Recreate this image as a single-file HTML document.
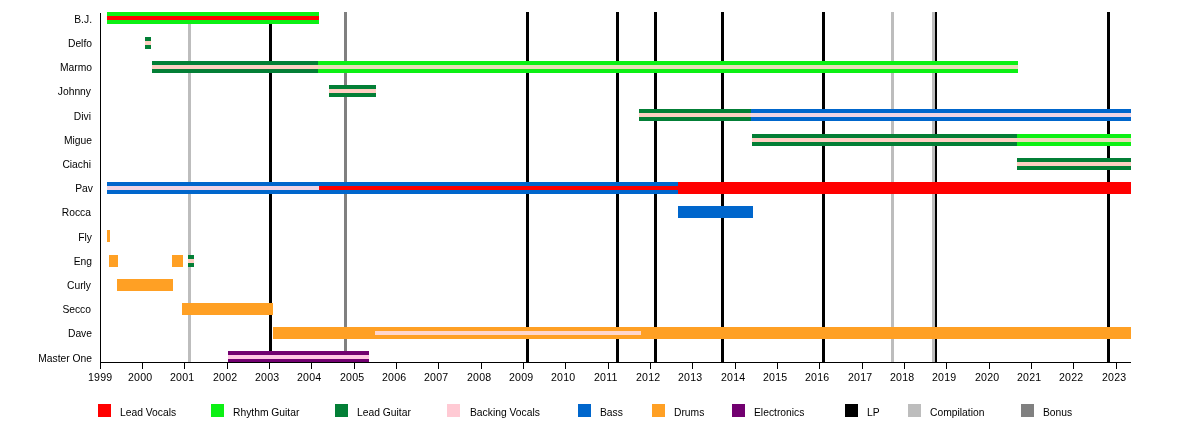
<!DOCTYPE html>
<html><head><meta charset="utf-8"><style>
html,body{margin:0;padding:0;background:#fff;}
body{width:1200px;height:422px;position:relative;overflow:hidden;font-family:"Liberation Sans",sans-serif;color:#000;}
.a{position:absolute;}
.t{position:absolute;will-change:transform;font-size:10.3px;line-height:20px;height:20px;white-space:nowrap;}
.rl{text-align:right;width:200px;}
.yr{font-size:10.6px;letter-spacing:0.2px;}
</style></head><body>

<div class="a" style="left:188px;top:12px;width:3px;height:350px;background:#bdbdbd"></div>
<div class="a" style="left:269px;top:12px;width:3px;height:350px;background:#000000"></div>
<div class="a" style="left:344px;top:12px;width:3px;height:350px;background:#808080"></div>
<div class="a" style="left:526px;top:12px;width:3px;height:350px;background:#000000"></div>
<div class="a" style="left:616px;top:12px;width:3px;height:350px;background:#000000"></div>
<div class="a" style="left:654px;top:12px;width:3px;height:350px;background:#000000"></div>
<div class="a" style="left:721px;top:12px;width:3px;height:350px;background:#000000"></div>
<div class="a" style="left:822px;top:12px;width:3px;height:350px;background:#000000"></div>
<div class="a" style="left:891px;top:12px;width:3px;height:350px;background:#bdbdbd"></div>
<div class="a" style="left:934px;top:12px;width:3px;height:350px;background:#000000"></div>
<div class="a" style="left:932px;top:12px;width:3px;height:350px;background:#bdbdbd"></div>
<div class="a" style="left:1107px;top:12px;width:3px;height:350px;background:#000000"></div>
<div class="a" style="left:107px;top:12px;width:212px;height:12px;background:#0cf014"></div>
<div class="a" style="left:107px;top:16px;width:212px;height:4px;background:#ff0000"></div>
<div class="a" style="left:145px;top:37px;width:6px;height:12px;background:#037f36"></div>
<div class="a" style="left:145px;top:41px;width:6px;height:4px;background:#ffcfc2"></div>
<div class="a" style="left:152px;top:61px;width:166px;height:12px;background:#037f36"></div>
<div class="a" style="left:152px;top:65px;width:166px;height:4px;background:#ffcfc2"></div>
<div class="a" style="left:318px;top:61px;width:700px;height:12px;background:#0cf014"></div>
<div class="a" style="left:318px;top:65px;width:700px;height:4px;background:#eadcb8"></div>
<div class="a" style="left:329px;top:85px;width:47px;height:12px;background:#037f36"></div>
<div class="a" style="left:329px;top:89px;width:47px;height:4px;background:#ffcfc2"></div>
<div class="a" style="left:639px;top:109px;width:112px;height:12px;background:#037f36"></div>
<div class="a" style="left:639px;top:113px;width:112px;height:4px;background:#ffcfc2"></div>
<div class="a" style="left:751px;top:109px;width:380px;height:12px;background:#0066cc"></div>
<div class="a" style="left:751px;top:113px;width:380px;height:4px;background:#f0d4e4"></div>
<div class="a" style="left:752px;top:134px;width:265px;height:12px;background:#037f36"></div>
<div class="a" style="left:752px;top:138px;width:265px;height:4px;background:#ffcfc2"></div>
<div class="a" style="left:1017px;top:134px;width:114px;height:12px;background:#0cf014"></div>
<div class="a" style="left:1017px;top:138px;width:114px;height:4px;background:#eadcb8"></div>
<div class="a" style="left:1017px;top:158px;width:114px;height:12px;background:#037f36"></div>
<div class="a" style="left:1017px;top:162px;width:114px;height:4px;background:#ffcfc2"></div>
<div class="a" style="left:107px;top:182px;width:212px;height:12px;background:#0066cc"></div>
<div class="a" style="left:107px;top:186px;width:212px;height:4px;background:#f0d4e4"></div>
<div class="a" style="left:319px;top:182px;width:359px;height:12px;background:#0066cc"></div>
<div class="a" style="left:319px;top:186px;width:359px;height:4px;background:#ff0000"></div>
<div class="a" style="left:678px;top:182px;width:453px;height:12px;background:#ff0000"></div>
<div class="a" style="left:678px;top:206px;width:75px;height:12px;background:#0066cc"></div>
<div class="a" style="left:107px;top:230px;width:3px;height:12px;background:#ffa024"></div>
<div class="a" style="left:109px;top:255px;width:9px;height:12px;background:#ffa024"></div>
<div class="a" style="left:172px;top:255px;width:11px;height:12px;background:#ffa024"></div>
<div class="a" style="left:188px;top:255px;width:6px;height:12px;background:#037f36"></div>
<div class="a" style="left:188px;top:259px;width:6px;height:4px;background:#ffcfc2"></div>
<div class="a" style="left:117px;top:279px;width:56px;height:12px;background:#ffa024"></div>
<div class="a" style="left:182px;top:303px;width:91px;height:12px;background:#ffa024"></div>
<div class="a" style="left:273px;top:327px;width:858px;height:12px;background:#ffa024"></div>
<div class="a" style="left:228px;top:351px;width:141px;height:12px;background:#720070"></div>
<div class="a" style="left:228px;top:355px;width:141px;height:4px;background:#ffc8e4"></div>
<div class="a" style="left:375px;top:331px;width:266px;height:4px;background:#ffd6cc"></div>
<div class="a" style="left:100px;top:13px;width:1px;height:350px;background:#000"></div>
<div class="a" style="left:100px;top:362px;width:1031px;height:1px;background:#000"></div>
<div class="a" style="left:100px;top:362px;width:1px;height:7px;background:#000"></div>
<div class="t yr" style="left:87.5px;top:367px">1999</div>
<div class="a" style="left:142px;top:362px;width:1px;height:7px;background:#000"></div>
<div class="t yr" style="left:128px;top:367px">2000</div>
<div class="a" style="left:184px;top:362px;width:1px;height:7px;background:#000"></div>
<div class="t yr" style="left:170px;top:367px">2001</div>
<div class="a" style="left:227px;top:362px;width:1px;height:7px;background:#000"></div>
<div class="t yr" style="left:213px;top:367px">2002</div>
<div class="a" style="left:269px;top:362px;width:1px;height:7px;background:#000"></div>
<div class="t yr" style="left:255px;top:367px">2003</div>
<div class="a" style="left:311px;top:362px;width:1px;height:7px;background:#000"></div>
<div class="t yr" style="left:297px;top:367px">2004</div>
<div class="a" style="left:354px;top:362px;width:1px;height:7px;background:#000"></div>
<div class="t yr" style="left:340px;top:367px">2005</div>
<div class="a" style="left:396px;top:362px;width:1px;height:7px;background:#000"></div>
<div class="t yr" style="left:382px;top:367px">2006</div>
<div class="a" style="left:438px;top:362px;width:1px;height:7px;background:#000"></div>
<div class="t yr" style="left:424px;top:367px">2007</div>
<div class="a" style="left:481px;top:362px;width:1px;height:7px;background:#000"></div>
<div class="t yr" style="left:467px;top:367px">2008</div>
<div class="a" style="left:523px;top:362px;width:1px;height:7px;background:#000"></div>
<div class="t yr" style="left:509px;top:367px">2009</div>
<div class="a" style="left:565px;top:362px;width:1px;height:7px;background:#000"></div>
<div class="t yr" style="left:551px;top:367px">2010</div>
<div class="a" style="left:608px;top:362px;width:1px;height:7px;background:#000"></div>
<div class="t yr" style="left:594px;top:367px">2011</div>
<div class="a" style="left:650px;top:362px;width:1px;height:7px;background:#000"></div>
<div class="t yr" style="left:636px;top:367px">2012</div>
<div class="a" style="left:692px;top:362px;width:1px;height:7px;background:#000"></div>
<div class="t yr" style="left:678px;top:367px">2013</div>
<div class="a" style="left:735px;top:362px;width:1px;height:7px;background:#000"></div>
<div class="t yr" style="left:721px;top:367px">2014</div>
<div class="a" style="left:777px;top:362px;width:1px;height:7px;background:#000"></div>
<div class="t yr" style="left:763px;top:367px">2015</div>
<div class="a" style="left:819px;top:362px;width:1px;height:7px;background:#000"></div>
<div class="t yr" style="left:805px;top:367px">2016</div>
<div class="a" style="left:862px;top:362px;width:1px;height:7px;background:#000"></div>
<div class="t yr" style="left:848px;top:367px">2017</div>
<div class="a" style="left:904px;top:362px;width:1px;height:7px;background:#000"></div>
<div class="t yr" style="left:890px;top:367px">2018</div>
<div class="a" style="left:946px;top:362px;width:1px;height:7px;background:#000"></div>
<div class="t yr" style="left:932px;top:367px">2019</div>
<div class="a" style="left:989px;top:362px;width:1px;height:7px;background:#000"></div>
<div class="t yr" style="left:975px;top:367px">2020</div>
<div class="a" style="left:1031px;top:362px;width:1px;height:7px;background:#000"></div>
<div class="t yr" style="left:1017px;top:367px">2021</div>
<div class="a" style="left:1073px;top:362px;width:1px;height:7px;background:#000"></div>
<div class="t yr" style="left:1059px;top:367px">2022</div>
<div class="a" style="left:1116px;top:362px;width:1px;height:7px;background:#000"></div>
<div class="t yr" style="left:1102px;top:367px">2023</div>
<div class="t rl" style="left:-108px;top:10px">B.J.</div>
<div class="t rl" style="left:-108px;top:34px">Delfo</div>
<div class="t rl" style="left:-108px;top:58px">Marmo</div>
<div class="t rl" style="left:-109px;top:82px">Johnny</div>
<div class="t rl" style="left:-109px;top:107px">Divi</div>
<div class="t rl" style="left:-108px;top:131px">Migue</div>
<div class="t rl" style="left:-109px;top:155px">Ciachi</div>
<div class="t rl" style="left:-107px;top:179px">Pav</div>
<div class="t rl" style="left:-109px;top:203px">Rocca</div>
<div class="t rl" style="left:-108px;top:228px">Fly</div>
<div class="t rl" style="left:-108px;top:252px">Eng</div>
<div class="t rl" style="left:-109px;top:276px">Curly</div>
<div class="t rl" style="left:-109px;top:300px">Secco</div>
<div class="t rl" style="left:-108px;top:324px">Dave</div>
<div class="t rl" style="left:-108px;top:349px">Master One</div>
<div class="a" style="left:98px;top:404px;width:13px;height:13px;background:#ff0000"></div>
<div class="t" style="left:120px;top:403px">Lead Vocals</div>
<div class="a" style="left:211px;top:404px;width:13px;height:13px;background:#0cf014"></div>
<div class="t" style="left:233px;top:403px">Rhythm Guitar</div>
<div class="a" style="left:335px;top:404px;width:13px;height:13px;background:#037f36"></div>
<div class="t" style="left:357px;top:403px">Lead Guitar</div>
<div class="a" style="left:447px;top:404px;width:13px;height:13px;background:#ffcad4"></div>
<div class="t" style="left:470px;top:403px">Backing Vocals</div>
<div class="a" style="left:578px;top:404px;width:13px;height:13px;background:#0066cc"></div>
<div class="t" style="left:600px;top:403px">Bass</div>
<div class="a" style="left:652px;top:404px;width:13px;height:13px;background:#ffa024"></div>
<div class="t" style="left:674px;top:403px">Drums</div>
<div class="a" style="left:732px;top:404px;width:13px;height:13px;background:#720070"></div>
<div class="t" style="left:754px;top:403px">Electronics</div>
<div class="a" style="left:845px;top:404px;width:13px;height:13px;background:#000000"></div>
<div class="t" style="left:867px;top:403px">LP</div>
<div class="a" style="left:908px;top:404px;width:13px;height:13px;background:#bdbdbd"></div>
<div class="t" style="left:930px;top:403px">Compilation</div>
<div class="a" style="left:1021px;top:404px;width:13px;height:13px;background:#808080"></div>
<div class="t" style="left:1043px;top:403px">Bonus</div>
</body></html>
